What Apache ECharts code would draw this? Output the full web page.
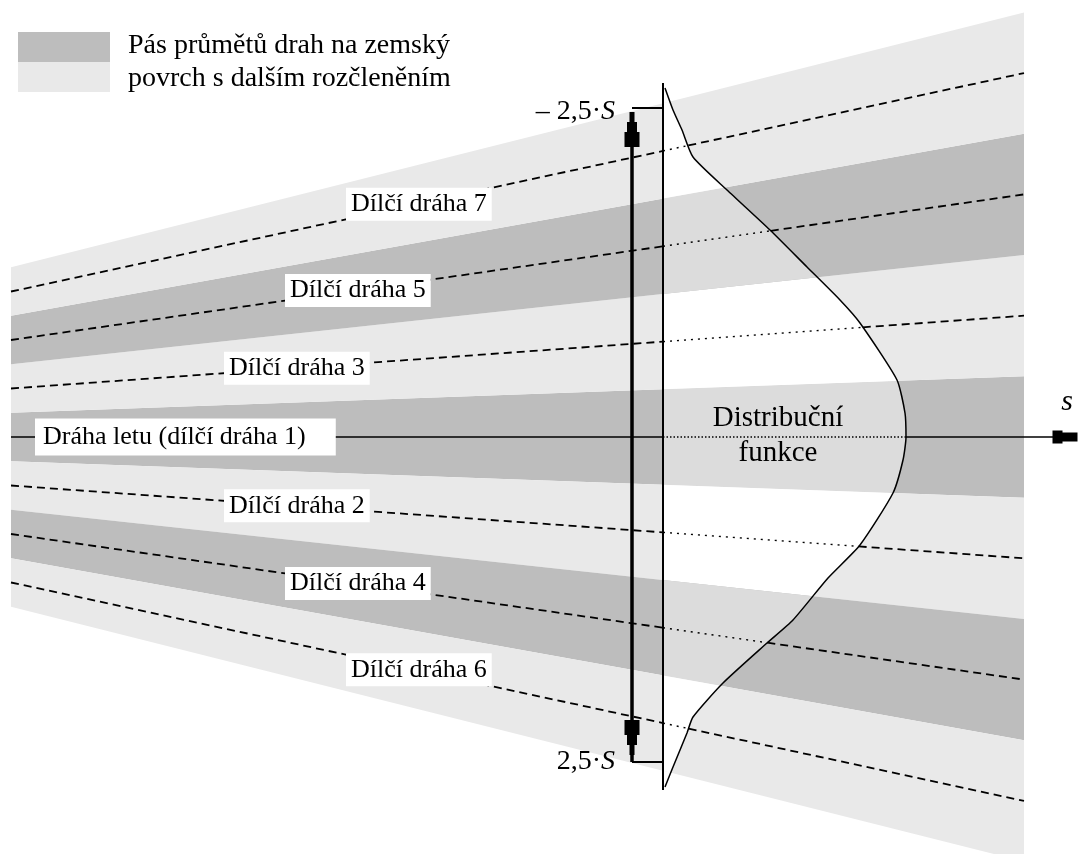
<!DOCTYPE html>
<html>
<head>
<meta charset="utf-8">
<script src="https://cdn.jsdelivr.net/npm/echarts@6/dist/echarts.min.js"></script>
<style>
  html, body { margin: 0; padding: 0; background: #fff; }
  #chart { width: 1078px; height: 854px; }
</style>
</head>
<body>
<div id="chart"></div>
<script>
// distance along the flight (x) and lateral offset (y, up = positive)
const spanX = [11, 1024];
const laneWidth = [48.5, 121.3]; // width of one sub-path lane at both ends

const pathNames = ["Dráha letu (dílčí dráha 1)", "Dílčí dráha 2", "Dílčí dráha 3",
  "Dílčí dráha 4", "Dílčí dráha 5", "Dílčí dráha 6", "Dílčí dráha 7"];
const pathLanes = [0, -1, 1, -2, 2, -3, 3];
const labelX = [40, 229, 229, 290, 290, 351, 351];

const bandLanes = [[-0.5, 0.5], [0.5, 1.5], [-1.5, -0.5], [1.5, 2.5], [-2.5, -1.5], [2.5, 3.5], [-3.5, -2.5]];
const bandShade = ["dark", "light", "light", "dark", "dark", "light", "light"];

// distribution function, drawn from the line x = distLineX
const distLineX = 663;
const distLineSpan = [354, -353];
const curveOffset = [349, 327, 307, 280, 247, 207, 170, 137, 114, 57, 24, 0,
  -23, -56, -108, -141, -183, -206, -246, -280, -296, -330, -350];
const curveX = [665, 673, 682, 693, 727, 770, 807, 840, 860, 897, 905, 906,
  903, 893, 860, 828, 793, 767, 723, 693, 687, 673, 665];

// +-2,5 S spread arrow
const spreadX = 632;
const spreadTips = [325, -318];
const spreadTicks = [329, -325];
const headLen = 35;
const axisEndX = 1058;
const axisArrowX = 1065;

const shade = { dark: "#bdbdbd", light: "#e9e9e9" };
const innerShade = { dark: "#dcdcdc", light: "#ffffff" };
const font = "Liberation Serif";

function laneAt(x) {
  return laneWidth[0] + (laneWidth[1] - laneWidth[0]) * (x - spanX[0]) / (spanX[1] - spanX[0]);
}
function curveAt(o) {
  if (o >= curveOffset[0]) return curveX[0];
  for (let i = 1; i < curveOffset.length; i++) {
    if (o >= curveOffset[i]) {
      const t = (curveOffset[i - 1] - o) / (curveOffset[i - 1] - curveOffset[i]);
      return curveX[i - 1] + t * (curveX[i] - curveX[i - 1]);
    }
  }
  return curveX[curveX.length - 1];
}
function crossX(m) {
  let x = 800;
  for (let k = 0; k < 30; k++) x = curveAt(m * laneAt(x));
  return x;
}
function interiorPoints(a, b) {
  const xt = crossX(b), xb = crossX(a);
  const ot = b * laneAt(xt), ob = a * laneAt(xb);
  const pts = [[distLineX, b * laneAt(distLineX)], [xt, ot]];
  curveOffset.forEach((o, i) => {
    if (o < ot && o > ob) pts.push([curveX[i], o]);
  });
  pts.push([xb, ob], [distLineX, a * laneAt(distLineX)]);
  return pts;
}

function renderBand(params, api) {
  const [a, b] = bandLanes[params.dataIndex];
  const s = bandShade[params.dataIndex];
  const P = (x, m) => api.coord([x, m * laneAt(x)]);
  const outer = [P(spanX[0], b), P(spanX[1], b), P(spanX[1], a), P(spanX[0], a)];
  const inner = interiorPoints(a, b).map((p) => api.coord(p));
  return {
    type: "group",
    children: [
      { type: "polygon", shape: { points: outer }, style: { fill: shade[s] } },
      { type: "polygon", shape: { points: inner }, style: { fill: innerShade[s] } },
    ],
  };
}

function renderPath(params, api) {
  const m = pathLanes[params.dataIndex];
  const P = (x) => api.coord([x, m * laneAt(x)]);
  const xc = crossX(m);
  const xEnd = m === 0 ? axisEndX : spanX[1];
  const outer = m === 0
    ? { stroke: "#000", lineWidth: 1.6, fill: null }
    : { stroke: "#000", lineWidth: 1.8, lineDash: [8, 5], fill: null };
  const inner = { stroke: "#000", lineWidth: 1.4, lineDash: m === 0 ? [1.5, 2] : [2, 5], fill: null };
  return {
    type: "group",
    children: [
      { type: "polyline", shape: { points: [P(spanX[0]), P(distLineX)] }, style: outer },
      { type: "polyline", shape: { points: [P(distLineX), P(xc)] }, style: inner },
      { type: "polyline", shape: { points: [P(xc), P(xEnd)] }, style: outer },
    ],
  };
}

let chartDom = document.getElementById("chart");
let myChart = echarts.init(chartDom);
let option;

option = {
  animation: false,
  backgroundColor: "#fff",
  grid: { left: 0, right: 0, top: 0, bottom: 0 },
  xAxis: { type: "value", min: 0, max: 1078, show: false },
  yAxis: { type: "value", min: -417, max: 437, show: false },
  graphic: [
    { type: "rect", shape: { x: 18, y: 32, width: 92, height: 30 }, style: { fill: shade.dark } },
    { type: "rect", shape: { x: 18, y: 62, width: 92, height: 30 }, style: { fill: shade.light } },
    {
      type: "text", x: 128, y: 62, z: 10,
      style: {
        text: "Pás průmětů drah na zemský\npovrch s dalším rozčleněním",
        fontFamily: font, fontSize: 28, lineHeight: 33, fill: "#000",
        align: "left", verticalAlign: "middle",
      },
    },
    {
      type: "text", x: 778, y: 436, z: 10,
      style: {
        text: "Distribuční\nfunkce", fontFamily: font, fontSize: 29, lineHeight: 35,
        fill: "#000", align: "center", verticalAlign: "middle",
      },
    },
    {
      type: "text", x: 1067, y: 402, z: 10,
      style: {
        text: "s", fontFamily: font, fontSize: 30, fontStyle: "italic",
        fill: "#000", align: "center", verticalAlign: "middle",
      },
    },
    {
      type: "text", x: 615, y: 112, z: 10,
      style: {
        text: "– 2,5·{i|S}", fontFamily: font, fontSize: 28, fill: "#000",
        align: "right", verticalAlign: "middle",
        rich: { i: { fontFamily: font, fontSize: 28, fontStyle: "italic" } },
      },
    },
    {
      type: "text", x: 615, y: 762, z: 10,
      style: {
        text: "2,5·{i|S}", fontFamily: font, fontSize: 28, fill: "#000",
        align: "right", verticalAlign: "middle",
        rich: { i: { fontFamily: font, fontSize: 28, fontStyle: "italic" } },
      },
    },
  ],
  series: [
    {
      name: "pásy",
      type: "custom",
      z: 1,
      renderItem: renderBand,
      data: bandLanes,
      silent: true,
    },
    {
      name: "dráhy",
      type: "custom",
      z: 2,
      renderItem: renderPath,
      data: pathLanes.map((m, i) => [i, m]),
      silent: true,
    },
    {
      name: "distribuční funkce",
      type: "line",
      z: 3,
      data: curveX.map((x, i) => [x, curveOffset[i]]),
      showSymbol: false,
      smooth: 0.2,
      lineStyle: { color: "#000", width: 1.5 },
      markLine: {
        silent: true,
        symbol: "none",
        label: { show: false },
        lineStyle: { color: "#000", type: "solid", width: 2 },
        data: [
          [{ coord: [distLineX, distLineSpan[0]] }, { coord: [distLineX, distLineSpan[1]] }],
          [{ coord: [spreadX, spreadTicks[0]] }, { coord: [distLineX, spreadTicks[0]] }],
          [{ coord: [spreadX, spreadTicks[1]] }, { coord: [distLineX, spreadTicks[1]] }],
          [{ coord: [spreadX, spreadTips[0] - 10], lineStyle: { width: 3.5 } }, { coord: [spreadX, spreadTicks[1]] }],
        ],
      },
    },
    {
      name: "šipky",
      type: "scatter",
      z: 4,
      silent: true,
      itemStyle: { color: "#000", opacity: 1 },
      data: [
        {
          value: [spreadX, spreadTips[0] - headLen / 2],
          symbol: "path://M5,0 L10,0 L10,10 L12.5,10 L12.5,20 L15,20 L15,35 L0,35 L0,20 L2.5,20 L2.5,10 L5,10 Z",
          symbolSize: [15, headLen],
        },
        {
          value: [spreadX, spreadTips[1] + headLen / 2],
          symbol: "path://M5,0 L10,0 L10,10 L12.5,10 L12.5,20 L15,20 L15,35 L0,35 L0,20 L2.5,20 L2.5,10 L5,10 Z",
          symbolSize: [15, headLen],
          symbolRotate: 180,
        },
        {
          value: [axisArrowX, 0],
          symbol: "path://M0,0 L10,0 L10,2 L25,2 L25,11 L10,11 L10,13 L0,13 Z",
          symbolSize: [25, 13],
        },
      ],
    },
    {
      name: "popisky",
      type: "scatter",
      z: 5,
      silent: true,
      symbolSize: 0,
      itemStyle: { opacity: 1 },
      data: pathNames.map((n, i) => {
        const item = { name: n, value: [labelX[i] - 5, pathLanes[i] * laneAt(labelX[i] + 65)] };
        if (i === 0) item.label = { padding: [6, 30, 5, 8] };
        return item;
      }),
      label: {
        show: true,
        position: "right",
        distance: 0,
        formatter: (p) => p.name,
        fontFamily: font,
        fontSize: 26,
        color: "#000",
        backgroundColor: "#fff",
        padding: [4, 5, 3, 5],
      },
    },
  ],
};
option && myChart.setOption(option);
</script>
</body>
</html>
